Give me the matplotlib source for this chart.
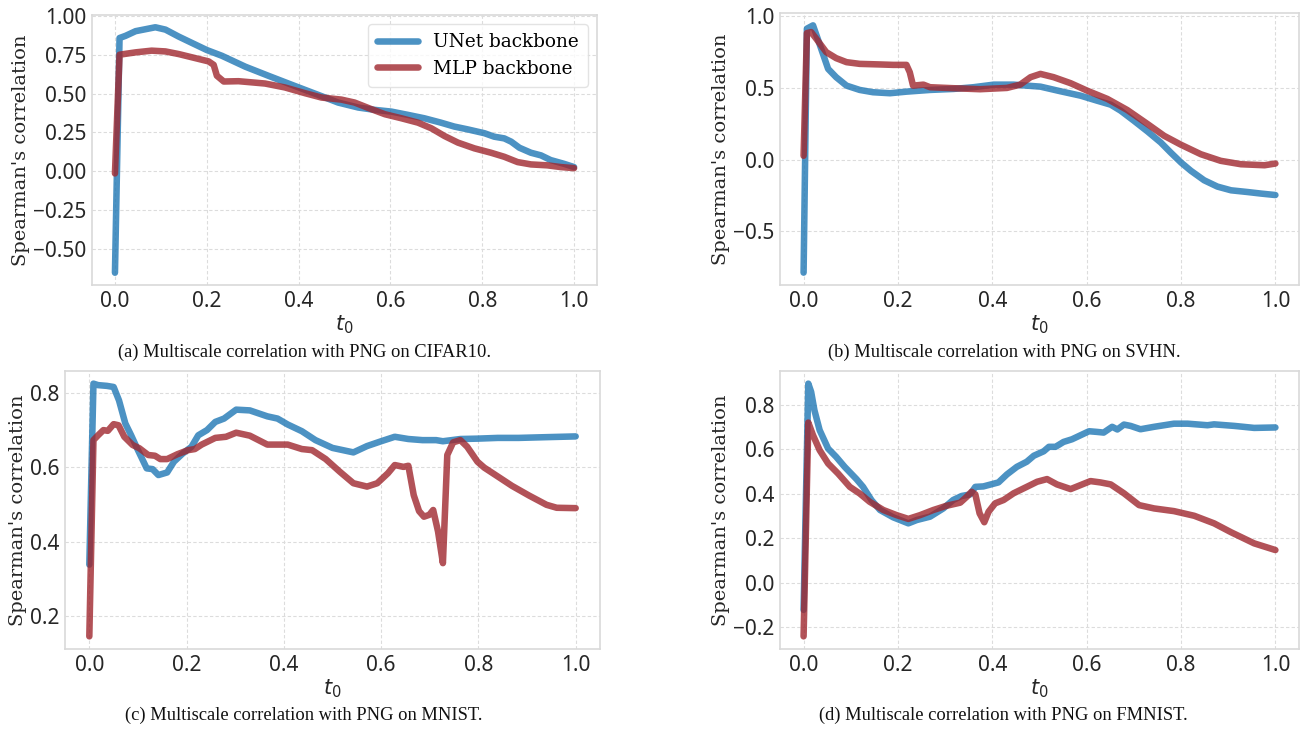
import matplotlib
matplotlib.use("Agg")
import matplotlib.pyplot as plt

# ---------------- data ----------------
# (a) CIFAR10
a_unet_t = [0.0, 0.01, 0.023, 0.045, 0.088, 0.11, 0.139, 0.168, 0.2, 0.233, 0.284, 0.334, 0.385, 0.443,
            0.486, 0.53, 0.566, 0.602, 0.638, 0.674, 0.71, 0.739, 0.768, 0.805, 0.826, 0.848, 0.863,
            0.881, 0.906, 0.928, 0.949, 0.978, 1.0]
a_unet_v = [-0.65, 0.856, 0.87, 0.90, 0.925, 0.91, 0.865, 0.824, 0.779, 0.742, 0.672, 0.614, 0.556, 0.491,
            0.442, 0.41, 0.395, 0.384, 0.363, 0.341, 0.313, 0.288, 0.27, 0.245, 0.223, 0.212, 0.191,
            0.152, 0.12, 0.103, 0.073, 0.049, 0.028]
a_mlp_t = [0.0, 0.01, 0.045, 0.08, 0.11, 0.139, 0.168, 0.204, 0.215, 0.222, 0.237, 0.269, 0.327, 0.37,
           0.414, 0.45, 0.493, 0.522, 0.559, 0.588, 0.624, 0.66, 0.689, 0.718, 0.747, 0.783, 0.819,
           0.848, 0.877, 0.906, 0.942, 0.971, 1.0]
a_mlp_v = [-0.013, 0.749, 0.764, 0.775, 0.77, 0.753, 0.732, 0.706, 0.684, 0.614, 0.577, 0.579, 0.564, 0.539,
           0.502, 0.474, 0.461, 0.442, 0.399, 0.367, 0.341, 0.313, 0.277, 0.227, 0.185, 0.148, 0.12,
           0.094, 0.06, 0.045, 0.039, 0.028, 0.021]

# (b) SVHN
b_unet_t = [0.0, 0.007, 0.02, 0.03, 0.041, 0.052, 0.069, 0.091, 0.119, 0.147, 0.183, 0.218, 0.268, 0.318,
            0.36, 0.403, 0.445, 0.502, 0.544, 0.587, 0.622, 0.651, 0.672, 0.7, 0.729, 0.757, 0.778, 0.8,
            0.821, 0.849, 0.877, 0.906, 0.941, 0.97, 1.0]
b_unet_v = [-0.79, 0.914, 0.937, 0.843, 0.738, 0.633, 0.575, 0.516, 0.486, 0.47, 0.463, 0.474, 0.486, 0.493,
            0.505, 0.523, 0.523, 0.509, 0.477, 0.446, 0.411, 0.383, 0.341, 0.271, 0.196, 0.119, 0.049, -0.021,
            -0.079, -0.145, -0.189, -0.215, -0.227, -0.238, -0.248]
b_mlp_t = [0.0, 0.007, 0.016, 0.027, 0.048, 0.069, 0.091, 0.119, 0.162, 0.19, 0.218, 0.225, 0.232, 0.254,
           0.268, 0.318, 0.374, 0.431, 0.459, 0.481, 0.502, 0.53, 0.566, 0.601, 0.644, 0.686, 0.729, 0.764,
           0.8, 0.842, 0.884, 0.927, 0.977, 1.0]
b_mlp_v = [0.026, 0.883, 0.89, 0.843, 0.75, 0.708, 0.68, 0.668, 0.664, 0.661, 0.661, 0.61, 0.516, 0.523,
           0.505, 0.498, 0.491, 0.5, 0.523, 0.575, 0.598, 0.575, 0.533, 0.481, 0.423, 0.346, 0.248, 0.166,
           0.103, 0.037, -0.009, -0.033, -0.04, -0.028]

# (c) MNIST
c_unet_t = [0.0, 0.0085, 0.018, 0.036, 0.05, 0.061, 0.074, 0.086, 0.1, 0.118, 0.13, 0.142, 0.16, 0.174,
            0.192, 0.21, 0.224, 0.242, 0.259, 0.277, 0.302, 0.33, 0.366, 0.387, 0.408, 0.437, 0.465, 0.5,
            0.543, 0.571, 0.6, 0.628, 0.656, 0.685, 0.713, 0.727, 0.763, 0.798, 0.84, 0.883, 0.94, 1.0]
c_unet_v = [0.338, 0.825, 0.821, 0.819, 0.816, 0.78, 0.718, 0.686, 0.646, 0.597, 0.595, 0.579, 0.586, 0.615,
            0.637, 0.655, 0.686, 0.70, 0.722, 0.731, 0.755, 0.753, 0.737, 0.731, 0.715, 0.697, 0.673, 0.652,
            0.64, 0.657, 0.67, 0.682, 0.676, 0.673, 0.673, 0.67, 0.676, 0.677, 0.679, 0.679, 0.681, 0.683]
c_mlp_t = [0.0, 0.0085, 0.018, 0.029, 0.038, 0.05, 0.06, 0.072, 0.089, 0.103, 0.121, 0.135, 0.146, 0.16,
           0.181, 0.203, 0.217, 0.231, 0.259, 0.281, 0.302, 0.33, 0.366, 0.408, 0.437, 0.458, 0.486, 0.515,
           0.543, 0.571, 0.592, 0.614, 0.628, 0.646, 0.656, 0.667, 0.678, 0.688, 0.699, 0.707, 0.717, 0.727,
           0.736, 0.748, 0.763, 0.777, 0.798, 0.812, 0.84, 0.869, 0.904, 0.94, 0.961, 1.0]
c_mlp_v = [0.145, 0.673, 0.686, 0.70, 0.698, 0.716, 0.713, 0.682, 0.66, 0.651, 0.633, 0.631, 0.622, 0.622,
           0.635, 0.646, 0.649, 0.661, 0.679, 0.682, 0.693, 0.685, 0.661, 0.661, 0.649, 0.646, 0.622, 0.588,
           0.557, 0.548, 0.557, 0.584, 0.606, 0.601, 0.604, 0.525, 0.482, 0.467, 0.472, 0.485, 0.427, 0.342,
           0.633, 0.667, 0.673, 0.655, 0.615, 0.599, 0.575, 0.55, 0.524, 0.499, 0.491, 0.49]

# (d) FMNIST
d_unet_t = [0.0, 0.01, 0.016, 0.023, 0.034, 0.052, 0.069, 0.087, 0.112, 0.126, 0.144, 0.162, 0.19, 0.222,
            0.24, 0.268, 0.296, 0.317, 0.335, 0.353, 0.364, 0.381, 0.413, 0.431, 0.452, 0.473, 0.488, 0.509,
            0.52, 0.534, 0.551, 0.569, 0.587, 0.605, 0.622, 0.636, 0.654, 0.665, 0.679, 0.693, 0.714, 0.743,
            0.785, 0.814, 0.856, 0.87, 0.913, 0.955, 1.0]
d_unet_v = [-0.123, 0.894, 0.857, 0.774, 0.685, 0.602, 0.565, 0.52, 0.465, 0.43, 0.37, 0.326, 0.293, 0.266,
            0.281, 0.296, 0.333, 0.371, 0.389, 0.396, 0.43, 0.432, 0.45, 0.486, 0.52, 0.543, 0.57, 0.59,
            0.61, 0.61, 0.632, 0.644, 0.662, 0.68, 0.677, 0.674, 0.70, 0.688, 0.71, 0.704, 0.689, 0.70,
            0.714, 0.714, 0.707, 0.711, 0.704, 0.695, 0.697]
d_mlp_t = [0.0, 0.01, 0.02, 0.034, 0.052, 0.073, 0.098, 0.119, 0.14, 0.169, 0.197, 0.222, 0.247, 0.275,
           0.303, 0.332, 0.346, 0.356, 0.364, 0.373, 0.383, 0.392, 0.406, 0.424, 0.445, 0.473, 0.495, 0.516,
           0.537, 0.566, 0.587, 0.608, 0.629, 0.651, 0.679, 0.711, 0.743, 0.785, 0.828, 0.87, 0.906, 0.955, 1.0]
d_mlp_v = [-0.242, 0.719, 0.662, 0.595, 0.535, 0.49, 0.43, 0.40, 0.363, 0.326, 0.303, 0.286, 0.303, 0.326,
           0.345, 0.359, 0.386, 0.408, 0.396, 0.311, 0.271, 0.318, 0.356, 0.371, 0.401, 0.43, 0.453, 0.465,
           0.441, 0.42, 0.438, 0.456, 0.45, 0.441, 0.401, 0.348, 0.333, 0.321, 0.30, 0.266, 0.226, 0.176, 0.146]

captions = ["(a) Multiscale correlation with PNG on CIFAR10.",
            "(b) Multiscale correlation with PNG on SVHN.",
            "(c) Multiscale correlation with PNG on MNIST.",
            "(d) Multiscale correlation with PNG on FMNIST."]
labels = ["UNet backbone", "MLP backbone"]
xticks = [0.0, 0.2, 0.4, 0.6, 0.8, 1.0]
yticks_list = [[-0.5, -0.25, 0.0, 0.25, 0.5, 0.75, 1.0],
               [-0.5, 0.0, 0.5, 1.0],
               [0.2, 0.4, 0.6, 0.8],
               [-0.2, 0.0, 0.2, 0.4, 0.6, 0.8]]
yfmt = ["%.2f", "%.1f", "%.1f", "%.1f"]

# ---------------- figure ----------------
W, H = 1301, 729
fig = plt.figure(figsize=(W / 100, H / 100), dpi=100)

boxes = [(92, 15, 597, 285), (780, 13, 1299, 285), (65, 371, 600, 649), (780, 371, 1299, 649)]
cap_pos = [(305, 352), (1004, 352), (304, 715), (1003, 715)]
series = [(a_unet_t, a_unet_v, a_mlp_t, a_mlp_v),
          (b_unet_t, b_unet_v, b_mlp_t, b_mlp_v),
          (c_unet_t, c_unet_v, c_mlp_t, c_mlp_v),
          (d_unet_t, d_unet_v, d_mlp_t, d_mlp_v)]

blue = "#1f77b4"
red = "#9f272e"
tick_font = "Noto Sans"

for i, (box, ser) in enumerate(zip(boxes, series)):
    x0, y0, x1, y1 = box
    ax = fig.add_axes([x0 / W, 1 - y1 / H, (x1 - x0) / W, (y1 - y0) / H])
    ut, uv, mt, mv = ser
    ax.plot(ut, uv, color=blue, lw=4.7, alpha=0.8, solid_capstyle="round",
            solid_joinstyle="round", label=labels[0])
    ax.plot(mt, mv, color=red, lw=4.7, alpha=0.8, solid_capstyle="round",
            solid_joinstyle="round", label=labels[1])
    ax.set_xlim(-0.05, 1.05)
    ax.set_xticks(xticks)
    ax.set_xticklabels(["%.1f" % v for v in xticks], family=tick_font, fontsize=15, color="#262626")
    yt = yticks_list[i]
    ax.set_yticks(yt)
    ax.set_yticklabels([(yfmt[i] % v).replace("-", "\u2212") for v in yt], family=tick_font,
                       fontsize=15, color="#262626")
    ax.tick_params(length=0, pad=4)
    ax.grid(True, color="#dcdcdc", lw=0.8, ls=(0, (3, 2)))
    ax.set_axisbelow(True)
    for s in ax.spines.values():
        s.set_color("#d9d9d9")
        s.set_linewidth(1.2)
    ax.set_xlabel("$t_0$", fontsize=15, color="#262626", labelpad=1)
    ax.set_ylabel("Spearman's correlation", family="DejaVu Serif", fontsize=14,
                  color="#262626", labelpad=2)
    if i == 0:
        leg = ax.legend(loc="upper right", prop={"family": "DejaVu Serif", "size": 13.3},
                        handlelength=2.2, borderpad=0.5, labelspacing=0.45, frameon=True,
                        fancybox=True, framealpha=0.8, edgecolor="#dddddd")
    cx, cy = cap_pos[i]
    fig.text(cx / W, 1 - cy / H, captions[i], ha="center", va="center",
             family="Liberation Serif", fontsize=13.3, color="#111111")

fig.savefig("out.png", dpi=100)
